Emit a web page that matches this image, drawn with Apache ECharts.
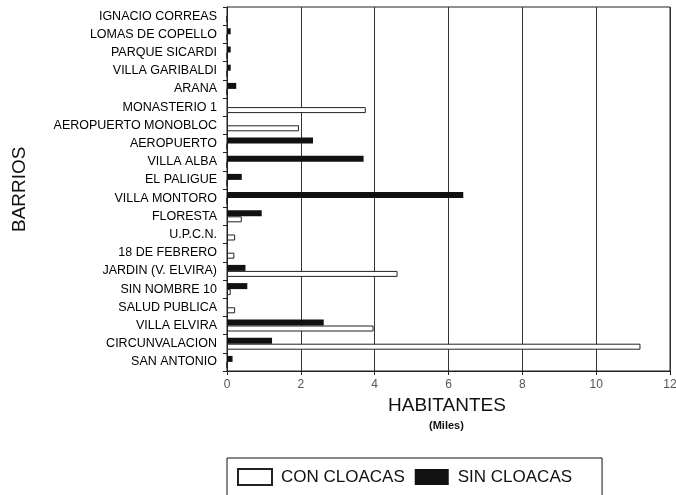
<!DOCTYPE html>
<html>
<head>
<meta charset="utf-8">
<script src="https://cdn.jsdelivr.net/npm/echarts@6/dist/echarts.min.js"></script>
<style>
  html, body { margin: 0; padding: 0; background: #fff; }
  #chart { width: 676px; height: 495px; }
</style>
</head>
<body>
<div id="chart"></div>
<script>
// Barrios, top to bottom
var barrios = [
  'IGNACIO CORREAS', 'LOMAS DE COPELLO', 'PARQUE SICARDI', 'VILLA GARIBALDI',
  'ARANA', 'MONASTERIO 1', 'AEROPUERTO MONOBLOC', 'AEROPUERTO', 'VILLA ALBA',
  'EL PALIGUE', 'VILLA MONTORO', 'FLORESTA', 'U.P.C.N.', '18 DE FEBRERO',
  'JARDIN (V. ELVIRA)', 'SIN NOMBRE 10', 'SALUD PUBLICA', 'VILLA ELVIRA',
  'CIRCUNVALACION', 'SAN ANTONIO'
];

// Habitantes (miles) sin cloacas
var sinCloacas = [
  0, 0.1, 0.1, 0.1,
  0.25, 0, 0, 2.33, 3.7,
  0.4, 6.4, 0.94, 0, 0,
  0.5, 0.55, 0, 2.62,
  1.22, 0.15
];

// Habitantes (miles) con cloacas
var conCloacas = [
  0, 0, 0, 0,
  0, 3.76, 1.95, 0, 0,
  0, 0, 0.4, 0.22, 0.2,
  4.62, 0.1, 0.22, 3.97,
  11.2, 0
];

var xTicks = [0, 2, 4, 6, 8, 10, 12];

var FONT = '"Liberation Sans", Arial, sans-serif';

var chart = echarts.init(document.getElementById('chart'), null, { renderer: 'canvas' });

chart.setOption({
  animation: false,
  backgroundColor: '#ffffff',
  textStyle: { fontFamily: FONT },
  grid: {
    left: 227, right: 6, top: 7, bottom: 124,
    outerBoundsMode: 'none',
    containLabel: false,
    show: true, borderColor: '#222', borderWidth: 1, backgroundColor: 'transparent'
  },
  legend: {
    data: ['CON CLOACAS', 'SIN CLOACAS'],
    left: 227, top: 458,
    orient: 'horizontal',
    itemWidth: 34, itemHeight: 16, itemGap: 10,
    padding: [10, 30, 10, 10],
    borderColor: '#111', borderWidth: 1, borderRadius: 0,
    icon: 'rect',
    textStyle: { fontFamily: FONT, fontSize: 17, color: '#111', padding: [0, 0, 0, 4] }
  },
  xAxis: {
    type: 'value',
    min: xTicks[0], max: xTicks[xTicks.length - 1], interval: 2,
    axisLine: { show: true, lineStyle: { color: '#222', width: 1 } },
    axisTick: { show: true, length: 4, lineStyle: { color: '#222' } },
    axisLabel: { fontFamily: FONT, fontSize: 12, color: '#555', margin: 8 },
    splitLine: { show: true, lineStyle: { color: '#333', width: 1 } }
  },
  yAxis: {
    type: 'category',
    data: barrios,
    inverse: true,
    axisLine: { show: true, lineStyle: { color: '#222', width: 1 } },
    axisTick: { show: true, length: 4, lineStyle: { color: '#222' } },
    axisLabel: { fontFamily: FONT, fontSize: 12.5, color: '#000', margin: 10 },
    splitLine: { show: false }
  },
  graphic: [
    {
      type: 'text', left: 388, top: 396,
      style: { text: 'HABITANTES', font: '19px ' + FONT, fill: '#111' }
    },
    {
      type: 'text', left: 429, top: 420,
      style: { text: '(Miles)', font: 'bold 11px ' + FONT, fill: '#111' }
    },
    {
      type: 'text', x: 10, y: 232, rotation: Math.PI / 2,
      style: { text: 'BARRIOS', font: '19px ' + FONT, fill: '#111' }
    }
  ],
  series: [
    {
      name: 'SIN CLOACAS',
      type: 'bar',
      data: sinCloacas,
      barWidth: 6,
      barGap: '0%',
      itemStyle: { color: '#111', borderColor: '#111', borderWidth: 0 }
    },
    {
      name: 'CON CLOACAS',
      type: 'bar',
      data: conCloacas,
      barWidth: 6,
      barGap: '0%',
      itemStyle: { color: '#ffffff', borderColor: '#222', borderWidth: 1 }
    }
  ]
});
</script>
</body>
</html>
